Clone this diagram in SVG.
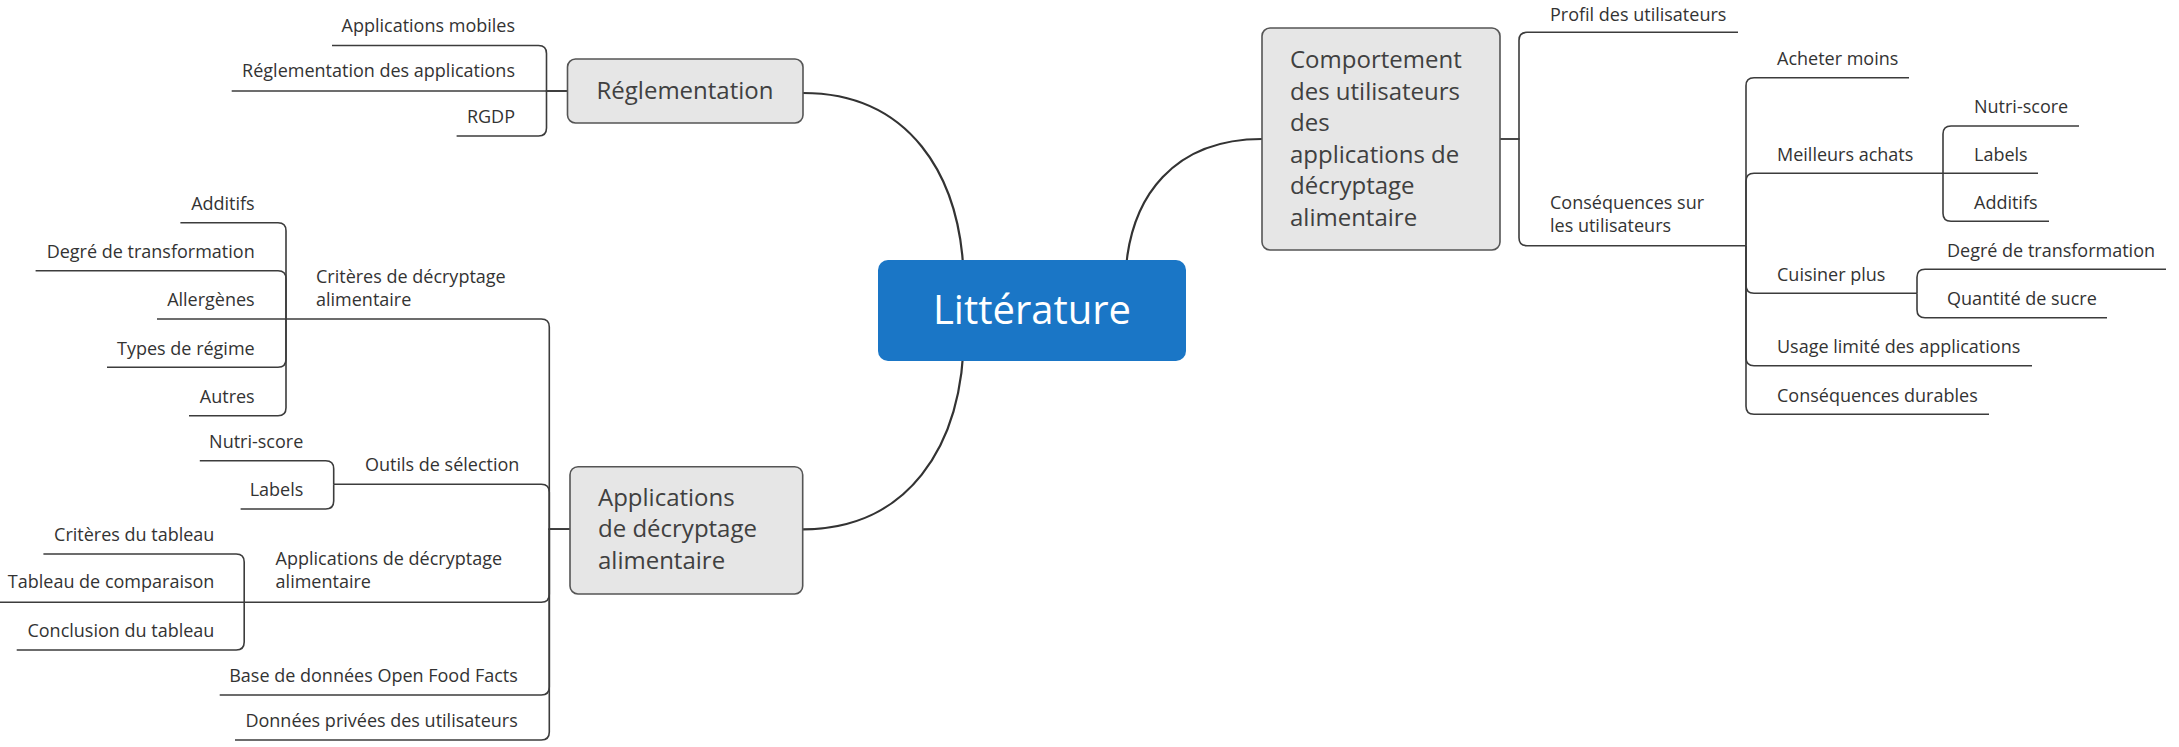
<svg xmlns="http://www.w3.org/2000/svg" width="2179" height="747" viewBox="0 0 2179 747">
<style>
.bg{fill:#ffffff}
.c{fill:none;stroke:#3c3c3c;stroke-width:1.6}
.m{fill:none;stroke:#333333;stroke-width:2.2}
.box{fill:#e6e6e6;stroke:#555555;stroke-width:1.6}
.t{font-family:"Open Sans","Noto Sans",sans-serif;font-size:18px;fill:#333333}
.r{text-anchor:end}
.bt{font-family:"Open Sans","Noto Sans",sans-serif;font-size:24px;fill:#404040}
.root{fill:#1a76c6}
.rt{font-family:"Open Sans","Noto Sans",sans-serif;font-size:40px;fill:#ffffff;text-anchor:middle}
</style>
<rect class="bg" x="0" y="0" width="2179" height="747"/>
<g id="connectors">
<path class="m" d="M803 93 C905 93 964 170 964 290"/>
<path class="m" d="M803 529.3 C905 529.3 964 450 964 330"/>
<path class="m" d="M1262 139 C1180 139 1125 190 1125 290"/>
<!-- Reglementation -->
<path class="c" d="M567.5 91 H546.5 V53.5 Q546.5 45.5 538.5 45.5 H332"/>
<path class="c" d="M567.5 91 H231.7"/>
<path class="c" d="M567.5 91 H546.5 V128 Q546.5 136 538.5 136 H456.6"/>
<!-- Applications -->
<path class="c" d="M570 529.3 H549.3 V327 Q549.3 319 541.3 319 H286"/>
<path class="c" d="M570 529.3 H549.3 V492.3 Q549.3 484.3 541.3 484.3 H333.7"/>
<path class="c" d="M570 529.3 H549.3 V594.3 Q549.3 602.3 541.3 602.3 H244.2"/>
<path class="c" d="M570 529.3 H549.3 V687 Q549.3 695 541.3 695 H219.7"/>
<path class="c" d="M570 529.3 H549.3 V732 Q549.3 740 541.3 740 H235"/>
<!-- Criteres -->
<path class="c" d="M286 319 V230.7 Q286 222.7 278 222.7 H180.4"/>
<path class="c" d="M286 319 V278.7 Q286 270.7 278 270.7 H35.6"/>
<path class="c" d="M286 319 H157"/>
<path class="c" d="M286 319 V359.3 Q286 367.3 278 367.3 H107"/>
<path class="c" d="M286 319 V407.7 Q286 415.7 278 415.7 H189"/>
<!-- Outils -->
<path class="c" d="M333.7 484.3 V468.7 Q333.7 460.7 325.7 460.7 H199.8"/>
<path class="c" d="M333.7 484.3 V501 Q333.7 509 325.7 509 H240.6"/>
<!-- Applications de decryptage -->
<path class="c" d="M244.2 602.3 V562 Q244.2 554 236.2 554 H43.4"/>
<path class="c" d="M244.2 602.3 H0"/>
<path class="c" d="M244.2 602.3 V642 Q244.2 650 236.2 650 H16.7"/>
<!-- Comportement -->
<path class="c" d="M1500 139 H1519 V40.3 Q1519 32.3 1527 32.3 H1738"/>
<path class="c" d="M1500 139 H1519 V237.7 Q1519 245.7 1527 245.7 H1746"/>
<!-- Consequences -->
<path class="c" d="M1746 245.7 V85.7 Q1746 77.7 1754 77.7 H1909"/>
<path class="c" d="M1746 245.7 V181.3 Q1746 173.3 1754 173.3 H1943"/>
<path class="c" d="M1746 245.7 V285.3 Q1746 293.3 1754 293.3 H1917"/>
<path class="c" d="M1746 245.7 V357.7 Q1746 365.7 1754 365.7 H2032"/>
<path class="c" d="M1746 245.7 V406.3 Q1746 414.3 1754 414.3 H1989"/>
<!-- Meilleurs achats -->
<path class="c" d="M1943 173.3 V134 Q1943 126 1951 126 H2079"/>
<path class="c" d="M1943 173.3 H2038"/>
<path class="c" d="M1943 173.3 V213.3 Q1943 221.3 1951 221.3 H2049"/>
<!-- Cuisiner plus -->
<path class="c" d="M1917 293.3 V277.3 Q1917 269.3 1925 269.3 H2166"/>
<path class="c" d="M1917 293.3 V309.7 Q1917 317.7 1925 317.7 H2107"/>
</g>
<g id="root">
<rect class="root" x="878" y="260" width="308" height="101" rx="10"/>
<text class="rt" x="1032" y="324">Littérature</text>
</g>
<g id="reglementation">
<rect class="box" x="567.5" y="59" width="235.5" height="64" rx="8"/>
<text class="bt" x="685" y="99" text-anchor="middle">Réglementation</text>
</g>
<g id="applications">
<rect class="box" x="570" y="466.7" width="232.7" height="127.3" rx="8"/>
<text class="bt" x="598" y="506">Applications</text>
<text class="bt" x="598" y="537">de décryptage</text>
<text class="bt" x="598" y="569">alimentaire</text>
</g>
<g id="comportement">
<rect class="box" x="1262" y="28" width="238" height="222" rx="8"/>
<text class="bt" x="1290" y="68">Comportement</text>
<text class="bt" x="1290" y="99.5">des utilisateurs</text>
<text class="bt" x="1290" y="131">des</text>
<text class="bt" x="1290" y="162.5">applications de</text>
<text class="bt" x="1290" y="194">décryptage</text>
<text class="bt" x="1290" y="225.5">alimentaire</text>
</g>
<g id="n-appmobiles"><text class="t r" x="515" y="32">Applications mobiles</text></g>
<g id="n-reglapps"><text class="t r" x="515" y="77">Réglementation des applications</text></g>
<g id="n-rgdp"><text class="t r" x="515" y="123">RGDP</text></g>
<g id="n-criteres"><text class="t" x="316" y="282.7">Critères de décryptage</text><text class="t" x="316" y="306">alimentaire</text></g>
<g id="n-additifs"><text class="t r" x="254.7" y="210">Additifs</text></g>
<g id="n-degre"><text class="t r" x="254.7" y="258">Degré de transformation</text></g>
<g id="n-allergenes"><text class="t r" x="254.7" y="306">Allergènes</text></g>
<g id="n-types"><text class="t r" x="254.7" y="354.5">Types de régime</text></g>
<g id="n-autres"><text class="t r" x="254.7" y="402.5">Autres</text></g>
<g id="n-outils"><text class="t" x="365" y="470.7">Outils de sélection</text></g>
<g id="n-nutri"><text class="t r" x="303.3" y="448">Nutri-score</text></g>
<g id="n-labels"><text class="t r" x="303.3" y="496">Labels</text></g>
<g id="n-appsdec"><text class="t" x="275.6" y="565">Applications de décryptage</text><text class="t" x="275.6" y="588.3">alimentaire</text></g>
<g id="n-crittab"><text class="t r" x="214.4" y="540.7">Critères du tableau</text></g>
<g id="n-tabcomp"><text class="t r" x="214.4" y="588.3">Tableau de comparaison</text></g>
<g id="n-conctab"><text class="t r" x="214.4" y="636.7">Conclusion du tableau</text></g>
<g id="n-base"><text class="t r" x="517.8" y="681.7">Base de données Open Food Facts</text></g>
<g id="n-donnees"><text class="t r" x="517.8" y="726.7">Données privées des utilisateurs</text></g>
<g id="n-profil"><text class="t" x="1550" y="20.5">Profil des utilisateurs</text></g>
<g id="n-consequences"><text class="t" x="1550" y="209">Conséquences sur</text><text class="t" x="1550" y="231.7">les utilisateurs</text></g>
<g id="n-acheter"><text class="t" x="1777" y="65">Acheter moins</text></g>
<g id="n-meilleurs"><text class="t" x="1777" y="161">Meilleurs achats</text></g>
<g id="n-rnutri"><text class="t" x="1974" y="113">Nutri-score</text></g>
<g id="n-rlabels"><text class="t" x="1974" y="161">Labels</text></g>
<g id="n-radditifs"><text class="t" x="1974" y="209">Additifs</text></g>
<g id="n-cuisiner"><text class="t" x="1777" y="281">Cuisiner plus</text></g>
<g id="n-rdegre"><text class="t" x="1947" y="257">Degré de transformation</text></g>
<g id="n-sucre"><text class="t" x="1947" y="305">Quantité de sucre</text></g>
<g id="n-usage"><text class="t" x="1777" y="353">Usage limité des applications</text></g>
<g id="n-durables"><text class="t" x="1777" y="401.5">Conséquences durables</text></g>
</svg>
